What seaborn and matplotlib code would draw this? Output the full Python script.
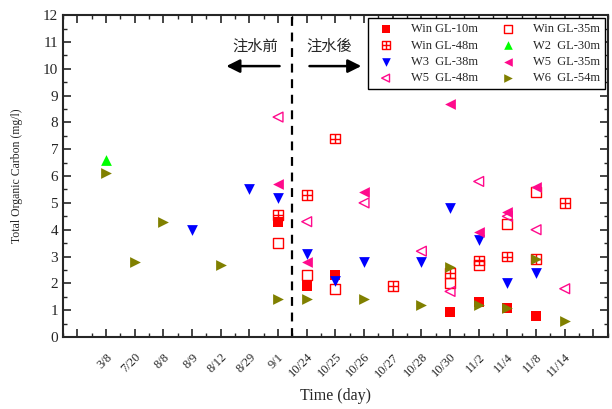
import matplotlib
matplotlib.use("Agg")
import matplotlib.pyplot as plt
from matplotlib.path import Path
from matplotlib.ticker import MultipleLocator
import seaborn as sns
import pandas as pd

dates = ['3/8', '7/20', '8/8', '8/9', '8/12', '8/29', '9/1', '10/24', '10/25',
         '10/26', '10/27', '10/28', '10/30', '11/2', '11/4', '11/8', '11/14']

win10_d = ['9/1', '10/24', '10/25', '10/30', '11/2', '11/4', '11/8']
win10_v = [4.3, 1.9, 2.3, 0.95, 1.3, 1.1, 0.8]
win35_d = ['9/1', '10/24', '10/25', '10/30', '11/2', '11/4', '11/8']
win35_v = [3.5, 2.3, 1.8, 2.0, 2.7, 4.2, 5.4]
win48_d = ['9/1', '10/24', '10/25', '10/27', '10/30', '11/2', '11/4', '11/8', '11/14']
win48_v = [4.55, 5.3, 7.4, 1.9, 2.4, 2.85, 3.0, 2.9, 5.0]
w2_d = ['3/8']
w2_v = [6.6]
w3_d = ['8/9', '8/29', '9/1', '10/24', '10/25', '10/26', '10/28', '10/30', '11/2', '11/4', '11/8']
w3_v = [4.0, 5.5, 5.2, 3.1, 2.1, 2.8, 2.8, 4.8, 3.6, 2.0, 2.4]
w5_35_d = ['9/1', '10/24', '10/26', '10/30', '11/2', '11/4', '11/8']
w5_35_v = [5.7, 2.8, 5.4, 8.7, 3.9, 4.65, 5.6]
w5_48_d = ['9/1', '10/24', '10/26', '10/28', '10/30', '11/2', '11/4', '11/8', '11/14']
w5_48_v = [8.2, 4.3, 5.0, 3.2, 1.7, 5.8, 4.5, 4.0, 1.8]
w6_d = ['3/8', '7/20', '8/8', '8/12', '9/1', '10/24', '10/26', '10/28', '10/30', '11/2', '11/4', '11/8', '11/14']
w6_v = [6.1, 2.8, 4.3, 2.7, 1.4, 1.4, 1.4, 1.2, 2.6, 1.2, 1.1, 2.9, 0.6]

sns.set_style("ticks")
plt.rcParams['font.family'] = ['Liberation Serif', 'Noto Sans CJK TC', 'DejaVu Sans']

# grid-square marker
grid_sq = Path(
    [(-1, -1), (1, -1), (1, 1), (-1, 1), (-1, -1),
     (0, -1), (0, 1), (-1, 0), (1, 0)],
    [Path.MOVETO, Path.LINETO, Path.LINETO, Path.LINETO, Path.CLOSEPOLY,
     Path.MOVETO, Path.LINETO, Path.MOVETO, Path.LINETO])

RED = '#FF0000'
PINK = '#FF0A8C'
series = [
    ('Win GL-10m', win10_d, win10_v, 's', RED, True),
    ('Win GL-35m', win35_d, win35_v, 's', RED, False),
    ('Win GL-48m', win48_d, win48_v, grid_sq, RED, False),
    ('W2  GL-30m', w2_d, w2_v, '^', '#00FF00', True),
    ('W3  GL-38m', w3_d, w3_v, 'v', '#0000FF', True),
    ('W5  GL-35m', w5_35_d, w5_35_v, '<', PINK, True),
    ('W5  GL-48m', w5_48_d, w5_48_v, '<', PINK, False),
    ('W6  GL-54m', w6_d, w6_v, '>', '#808000', True),
]

fig = plt.figure(figsize=(6.12, 4.09), dpi=100)
ax = fig.add_axes([0.103, 0.176, 0.89, 0.787])

for name, d, v, m, c, filled in series:
    df = pd.DataFrame({'x': [dates.index(s) + 1 for s in d], 'y': v})
    if filled:
        sns.scatterplot(data=df, x='x', y='y', ax=ax, marker=m, color=c,
                        s=60, linewidth=0, label=name)
    else:
        sns.scatterplot(data=df, x='x', y='y', ax=ax, marker=m,
                        facecolors='none', edgecolor=c, color=c,
                        s=50, linewidth=1.0, label=name)

ax.axvline(7.5, color='black', linestyle=(0, (4, 3)), linewidth=1.6)

ax.set_xlim(-0.5, 18.5)
ax.set_ylim(0, 12)
ax.set_xticks(range(0, 19))
ax.set_xticklabels([''] + dates + [''], rotation=45, fontsize=9,
                   ha='right', rotation_mode='anchor')
ax.xaxis.set_minor_locator(MultipleLocator(0.5))
ax.yaxis.set_major_locator(MultipleLocator(1))
ax.yaxis.set_minor_locator(MultipleLocator(0.5))
ax.tick_params(which='major', direction='in', length=6, width=1.2,
               top=True, right=True, labelsize=11)
ax.tick_params(axis='x', which='major', labelsize=9, pad=10)
ax.tick_params(which='minor', direction='in', length=3, width=1.0,
               top=True, right=True)
for sp in ax.spines.values():
    sp.set_linewidth(1.5)

ax.set_xlabel('Time (day)', fontsize=11.5, labelpad=6)
ax.set_ylabel('Total Organic Carbon (mg/l)', fontsize=8.5, labelpad=14)

# annotations
ax.annotate('', xy=(5.1, 10.1), xytext=(7.15, 10.1),
            arrowprops=dict(arrowstyle='-|>', color='black', lw=1.8,
                            mutation_scale=20))
ax.annotate('', xy=(10.0, 10.1), xytext=(8.0, 10.1),
            arrowprops=dict(arrowstyle='-|>', color='black', lw=1.8,
                            mutation_scale=20))
ax.text(6.2, 10.85, '注水前', ha='center', va='center', fontsize=11,
        family=['Noto Sans CJK TC', 'DejaVu Sans'])
ax.text(8.8, 10.85, '注水後', ha='center', va='center', fontsize=11,
        family=['Noto Sans CJK TC', 'DejaVu Sans'])

h, l = ax.get_legend_handles_labels()
order = [0, 2, 4, 6, 1, 3, 5, 7]
leg = ax.legend([h[i] for i in order], [l[i] for i in order], ncol=2,
                loc='upper right', fontsize=9, frameon=True, fancybox=False,
                edgecolor='black', framealpha=1, borderaxespad=0.25,
                columnspacing=1.4, handletextpad=1.0, labelspacing=0.35,
                borderpad=0.4, markerscale=0.8)
leg.get_frame().set_linewidth(1.0)

fig.savefig('out.png', dpi=100)
